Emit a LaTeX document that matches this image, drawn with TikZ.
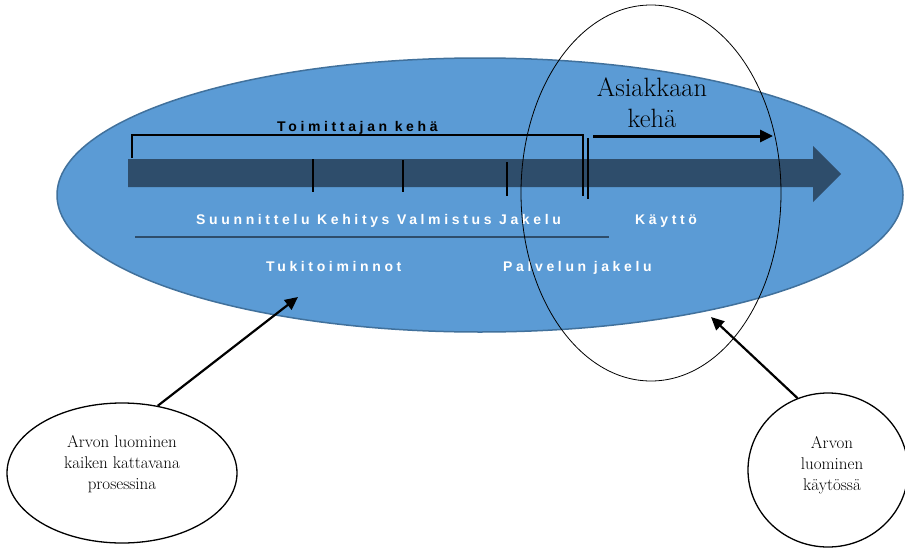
\documentclass[tikz,border=0pt]{standalone}
\usepackage{fontspec}
\newfontfamily\spc[LetterSpace=26]{Liberation Sans}
\usetikzlibrary{shapes.geometric,arrows.meta}
\definecolor{ellfill}{HTML}{5B9BD5}
\definecolor{elledge}{HTML}{41719C}
\definecolor{darrow}{HTML}{2E4D6B}
\begin{document}
\begin{tikzpicture}[x=1pt,y=-1pt,
  oval/.style={ellipse, inner sep=0pt, draw=black},
  spaced/.style={font=\spc\bfseries\fontsize{14}{16}\selectfont, inner sep=0pt, anchor=base west},
  serifsmall/.style={font=\fontsize{17}{21}\selectfont, align=center, inner sep=0pt, anchor=base},
  sepline/.style={black, line width=1.1pt},
  callout/.style={black, line width=2.2pt, -{Triangle[length=13pt,width=12pt]}}
]
\useasboundingbox (0,0) rectangle (905,549);
% big value ellipse
\node[ellipse, inner sep=0pt, fill=ellfill, draw=elledge, line width=1.5pt,
      minimum width=846pt, minimum height=274pt] (big) at (480,195) {};
% thick process arrow
\fill[darrow] (128,159) -- (813,159) -- (813,146) -- (841,174) -- (813,202) -- (813,187) -- (128,187) -- cycle;
% separators
\draw[sepline] (313,159) -- (313,192);
\draw[sepline] (403,160) -- (403,192);
\draw[sepline] (507,162) -- (507,196);
\draw[sepline] (588,138) -- (588,199);
% supplier bracket
\draw[sepline] (132,158) -- (132,135) -- (583,135) -- (583,196);
\node[spaced, text=black] (toim) at (277,131) {Toimittajan kehä};
% customer arrow
\coordinate (cA) at (593,136);
\coordinate (cB) at (773,136);
\draw[black, line width=3pt, -{Triangle[length=13pt,width=12pt]}] (cA) -- (cB);
\node[font=\fontsize{26.5}{31}\selectfont, align=center, inner sep=0pt, anchor=base] (asi) at (652,127) {Asiakkaan\\kehä};
% stage labels
\node[spaced, text=white] (stages) at (196,224) {Suunnittelu Kehitys Valmistus Jakelu};
\node[spaced, text=white] (kaytto) at (635,224) {Käyttö};
\draw[darrow, line width=1.5pt] (135,237) -- (609,237);
\node[spaced, text=white] (tuki) at (266,271) {Tukitoiminnot};
\node[spaced, text=white] (palv) at (503,271) {Palvelun jakelu};
% customer ellipse outline
\node[oval, line width=0.8pt, minimum width=260pt, minimum height=376pt] (cust) at (651,193) {};
% callout ellipses
\node[oval, line width=1.3pt, fill=white, minimum width=230pt, minimum height=140pt] (e1) at (122,473) {};
\node[serifsmall] (t1) at (122,489) {Arvon luominen\\kaiken kattavana\\prosessina};
\node[oval, line width=1.3pt, fill=white, minimum width=160pt, minimum height=154pt] (e2) at (828,470) {};
\node[serifsmall] (t2) at (832,490) {Arvon\\luominen\\käytössä};
% callout arrows
\coordinate (tipA) at (298,297);
\coordinate (tipB) at (711,317);
\draw[callout] (e1.62) -- (tipA);
\draw[callout] (e2.113) -- (tipB);
\end{tikzpicture}
\end{document}
